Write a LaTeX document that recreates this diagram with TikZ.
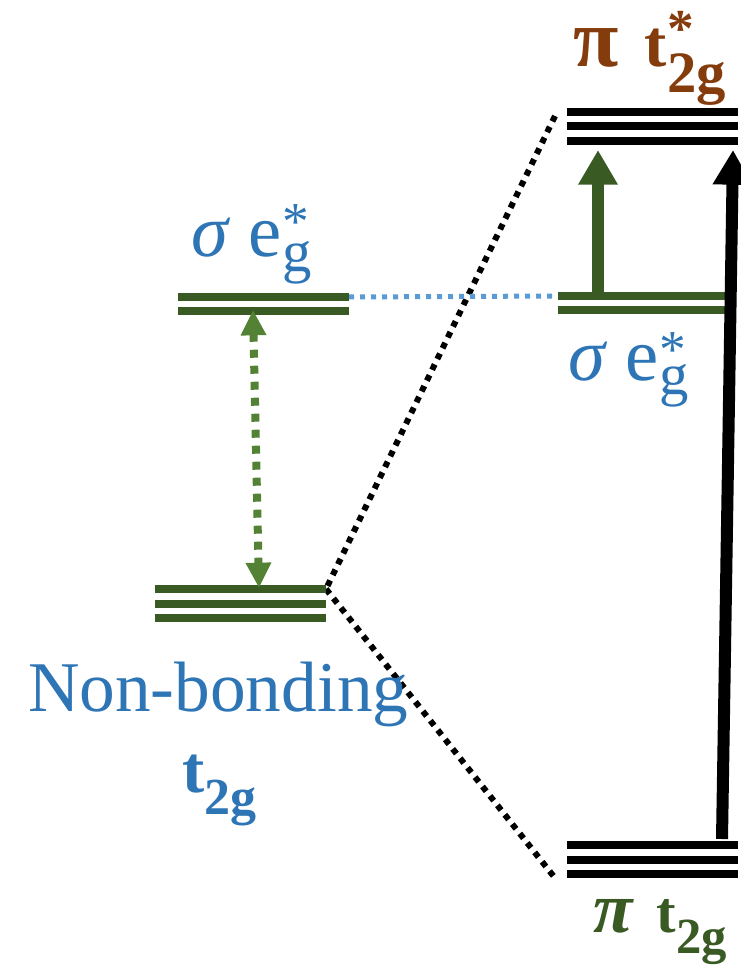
\documentclass[tikz,border=0pt]{standalone}
\usepackage{fontspec}
\setmainfont{Liberation Serif}
\usetikzlibrary{arrows.meta}
\definecolor{dkgreen}{HTML}{3A5A24}
\definecolor{ltgreen}{HTML}{548235}
\definecolor{blu}{HTML}{2E75B6}
\definecolor{ltblu}{HTML}{5B9BD5}
\definecolor{brwn}{HTML}{843C0C}
\newcommand\fs[1]{\fontsize{#1}{#1}\selectfont}
% #1 sup raise, #2 sup, #3 sub drop, #4 sub
\newcommand\supsub[4]{\makebox[0pt][l]{\raisebox{#1}{#2}}\raisebox{-#3}{#4}}
\tikzset{
  lvlG/.style={dkgreen, line width=5.5pt},
  lvlK/.style={black, line width=6pt},
  blackdots/.style={black, line width=4.5pt, dash pattern=on 4.5pt off 4.5pt},
  bluedots/.style={ltblu, line width=3.75pt, dash pattern=on 3.75pt off 4.5pt},
  lbl/.style={anchor=base west, inner sep=0pt, outer sep=0pt},
  bigarrow/.style={line width=9pt, -{Triangle[length=26pt,width=28pt]}},
}
\begin{document}
\begin{tikzpicture}[x=0.75pt,y=-0.75pt]
\useasboundingbox (0,0) rectangle (741,966);

% ---- level end points
% top right pi t2g*
\coordinate (T1a) at (567,112); \coordinate (T1b) at (738,112);
\coordinate (T2a) at (567,126.5); \coordinate (T2b) at (738,126.5);
\coordinate (T3a) at (567,141); \coordinate (T3b) at (738,141);
% left sigma eg*
\coordinate (L1a) at (178,297); \coordinate (L1b) at (349,297);
\coordinate (L2a) at (178,311); \coordinate (L2b) at (349,311);
% right sigma eg*
\coordinate (R1a) at (558,296); \coordinate (R1b) at (726,296);
\coordinate (R2a) at (558,310); \coordinate (R2b) at (726,310);
% non-bonding t2g
\coordinate (N1a) at (155,589); \coordinate (N1b) at (326,589);
\coordinate (N2a) at (155,604); \coordinate (N2b) at (326,604);
\coordinate (N3a) at (155,618); \coordinate (N3b) at (326,618);
% bottom pi t2g
\coordinate (B1a) at (567,845); \coordinate (B1b) at (738,845);
\coordinate (B2a) at (567,859.5); \coordinate (B2b) at (738,859.5);
\coordinate (B3a) at (567,874); \coordinate (B3b) at (738,874);

% ---- dotted connectors
\coordinate (dTop) at (555,116);
\coordinate (dBot) at (555,878);
\draw[blackdots] (dTop) -- (N1b);
\draw[blackdots] (N1b) -- (dBot);
\draw[bluedots] (L1b) -- (R1a);

% ---- levels
\draw[lvlK] (T1a) -- (T1b); \draw[lvlK] (T2a) -- (T2b); \draw[lvlK] (T3a) -- (T3b);
\draw[lvlG] (L1a) -- (L1b); \draw[lvlG] (L2a) -- (L2b);
\draw[lvlG] (R1a) -- (R1b); \draw[lvlG] (R2a) -- (R2b);
\draw[lvlG] (N1a) -- (N1b); \draw[lvlG] (N2a) -- (N2b); \draw[lvlG] (N3a) -- (N3b);
\draw[lvlK] (B1a) -- (B1b); \draw[lvlK] (B2a) -- (B2b); \draw[lvlK] (B3a) -- (B3b);

% ---- arrows
\coordinate (gA) at (253,310);
\coordinate (gB) at (259,588);
\draw[ltgreen, line width=6pt, dash pattern=on 6pt off 6pt,
  {Triangle[length=19pt,width=18pt]}-{Triangle[length=19pt,width=18pt]}] (gA) -- (gB);
\coordinate (dgA) at (598,297);
\coordinate (dgB) at (598,150);
\draw[dkgreen, bigarrow] (dgA) -- (dgB);
\coordinate (kA) at (722,839);
\coordinate (kB) at (733,150);
\draw[black, bigarrow] (kA) -- (kB);

% ---- labels
\node[lbl, text=brwn, font=\bfseries\fs{50}] (pitop) at (573,67)
  {{\fs{62}π}\hspace{0.4em}t\supsub{15pt}{\fs{40}*}{19pt}{\fs{44}2g}};
\node[lbl, text=blu, font=\fs{56}] (sigL) at (191,257)
  {\textit{σ} e\supsub{13.4pt}{\fs{40}*}{10.5pt}{\fs{44}g}};
\node[lbl, text=blu, font=\fs{56}] (sigR) at (568,380)
  {\textit{σ} e\supsub{9.5pt}{\fs{40}*}{10.5pt}{\fs{44}g}};
\node[lbl, text=blu, font=\fs{53.5}] (nonb) at (28,711) {Non-bonding};
\node[lbl, text=blu, font=\bfseries\fs{50}] (t2gL) at (182,792)
  {t\raisebox{-17pt}{\fs{39}2g}};
\node[lbl, text=dkgreen, font=\bfseries\fs{44}] (pibot) at (593,932)
  {{\fs{54}\itshape π}\hspace{0.42em}t\raisebox{-16pt}{\fs{38}2g}};
\end{tikzpicture}
\end{document}
